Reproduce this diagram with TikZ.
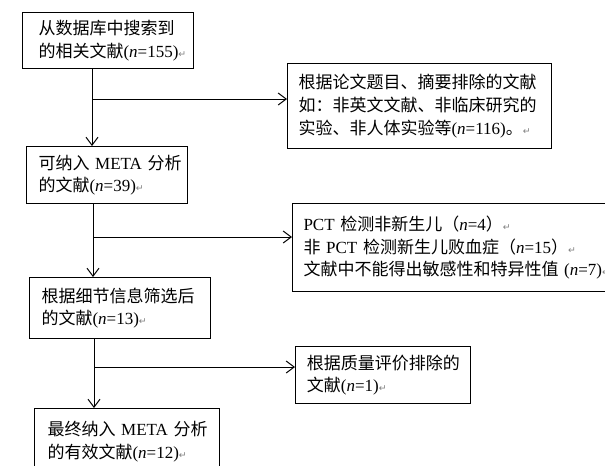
\documentclass[tikz,border=0pt]{standalone}
\usepackage{fontspec}
\setmainfont{Liberation Serif}
\newfontfamily\cjk{Noto Sans CJK SC}
\newfontfamily\djv{DejaVu Sans}
\usetikzlibrary{arrows.meta}
\newcommand\rmk{{\djv\fontsize{7pt}{7pt}\selectfont\color{gray}↵}}
\newcommand\nn{\textit{n}}
\begin{document}
\begin{tikzpicture}[x=0.75pt,y=-0.75pt,
  box/.style={draw, line width=0.8pt, anchor=north west, align=left, inner ysep=0pt,
    font=\fontsize{12.75pt}{17pt}\selectfont},
  arr/.style={line width=0.75pt, -{Straight Barb[length=6pt,width=9pt]}}]
\clip (0,0) rectangle (605,465);
\node[box, text width=104.25pt, inner xsep=12pt, minimum height=42pt] (b1) at (22,12)
  {{\cjk 从数据库中搜索到}\\{\cjk 的相关文献}(\nn=155)\rmk};
\node[box, text width=181.5pt, inner xsep=8.25pt, minimum height=63.75pt] (r1) at (287,63)
  {{\cjk 根据论文题目、摘要排除的文献}\\{\cjk 如：非英文文献、非临床研究的}\\{\cjk 实验、非人体实验等}(\nn=116){\cjk 。}\rmk};
\node[box, text width=102.75pt, inner xsep=9pt, minimum height=42.75pt] (b2) at (26,146)
  {\mbox{{\cjk 可纳入}~META~{\cjk 分析}}\\{\cjk 的文献}(\nn=39)\rmk};
\node[box, text width=231pt, inner xsep=8.25pt, minimum height=66pt] (r2) at (292,203)
  {\mbox{PCT~{\cjk 检测非新生儿（}\nn=4{\cjk ）}\rmk}\\\mbox{{\cjk 非}~PCT~{\cjk 检测新生儿败血症（}\nn=15{\cjk ）}\rmk}\\\mbox{{\cjk 文献中不能得出敏感性和特异性值}~(\nn=7)\rmk}};
\node[box, text width=117.75pt, inner xsep=9pt, minimum height=45.75pt] (b3) at (29,277)
  {{\cjk 根据细节信息筛选后}\\{\cjk 的文献}(\nn=13)\rmk};
\node[box, text width=114pt, inner xsep=8.5pt, minimum height=42.75pt] (r3) at (295,346)
  {{\cjk 根据质量评价排除的}\\{\cjk 文献}(\nn=1)\rmk};
\node[box, text width=119.25pt, inner xsep=9.75pt, minimum height=50pt] (b4) at (34,408)
  {\mbox{{\cjk 最终纳入}~META~{\cjk 分析}}\\{\cjk 的有效文献}(\nn=12)\rmk};
\coordinate (j1) at (92,99);
\coordinate (j2) at (93,237);
\coordinate (j3) at (94,367);
\draw[arr] (b1.south -| j1) -- (b2.north -| j1);
\draw[arr] (j1) -- (j1 -| r1.west);
\draw[arr] (b2.south -| j2) -- (b3.north -| j2);
\draw[arr] (j2) -- (j2 -| r2.west);
\draw[arr] (b3.south -| j3) -- (b4.north -| j3);
\draw[arr] (j3) -- (j3 -| r3.west);
\end{tikzpicture}
\end{document}
